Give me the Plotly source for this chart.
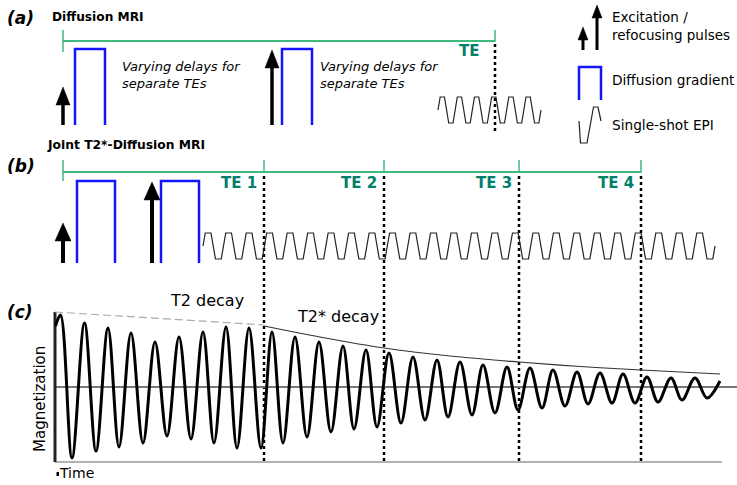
import plotly.graph_objects as go

W, H = 737, 485
FONT = "DejaVu Sans"
GREEN = "#3dba7c"
TEAL = "#00806a"
BLUE = "#1414ff"

# ---------------- data (time axis in figure units) ----------------
# (a) conventional diffusion MRI
a_pulse_x = [63, 272]          # excitation, refocusing pulse times
a_pulse_tip = [87, 50]         # pulse heights (tips)
a_grad_start = [75, 282]
a_grad_end = [105, 312]
a_te = [63, 495]               # start, echo time
a_epi = [438, 541]             # readout start / end
a_epi_lobes = 6

# (b) joint T2*-diffusion MRI
b_pulse_x = [63, 152]
b_pulse_tip = [223, 182]
b_grad_start = [77, 161]
b_grad_end = [115, 199]
b_te = [63, 264, 384, 519, 641]
b_te_labels = ["TE 1", "TE 2", "TE 3", "TE 4"]
b_epi = [203, 715]
b_epi_lobes = 25

# (c) magnetization signal: extrema
mag_t = [55.5, 60.5, 72, 84.5, 96, 108, 119, 131, 143, 155, 167, 179, 191, 203,
         214, 226, 237, 249, 261, 272, 283, 295, 307, 319, 331, 343, 354, 366,
         377, 389, 401, 413, 425, 437, 448, 460, 472, 483, 495, 507, 518, 530,
         542, 553, 565, 577, 588, 600, 612, 623, 635, 647, 658, 671, 682, 695,
         707, 720]
mag_y = [326, 315, 458, 323, 451, 328, 447, 333, 443, 342, 436, 337, 439, 332,
         443, 327, 448, 328, 448, 332, 443, 337, 437, 342, 432, 346, 429, 350,
         427, 353, 423, 357, 420, 360, 417, 362, 415, 365, 413, 367, 410, 368,
         408, 370, 406, 372, 404, 373, 403, 374, 403, 377, 402, 378, 400, 378,
         398, 381]
t2_t = [55, 264]
t2_y = [312, 325]
t2s_t = [264, 320, 384, 450, 519, 580, 641, 720]
t2s_y = [326, 337, 348, 356, 362, 366.5, 370, 374]

fig = go.Figure()
shapes = []
annotations = []


def line(xs, ys, color="black", width=1, dash=None, shape="linear"):
    fig.add_trace(go.Scatter(x=xs, y=ys, mode="lines", hoverinfo="skip",
                             line=dict(color=color, width=width, dash=dash, shape=shape),
                             showlegend=False))


def arrow(x, tail, tip, hw=7.5, hl=17, lw=4):
    line([x, x], [tail, tip + hl - 2], width=lw)
    shapes.append(dict(type="path", xref="x", yref="y",
                       path=f"M {x-hw},{tip+hl} L {x},{tip} L {x+hw},{tip+hl} Z",
                       fillcolor="black", line=dict(color="black", width=0.5)))


def gradient(x0, x1, top, bottom, lw=2.5):
    line([x0, x0, x1, x1], [bottom, top, top, bottom], color=BLUE, width=lw)


def epi(x0, x1, n, ytop, ybot, rf, lw=1.2):
    P = (x1 - x0) / n
    r = P * rf
    f = (P - 2 * r) / 2
    ym = (ytop + ybot) / 2
    xs, ys = [x0], [ym]
    for k in range(n):
        s = x0 + k * P
        xs += [s + r / 2, s + r / 2 + f, s + 1.5 * r + f, s + 1.5 * r + 2 * f, s + P]
        ys += [ytop, ytop, ybot, ybot, ym]
    line(xs, ys, color="#222", width=lw)


def text(x, y, s, size=12, color="black", xanchor="left", angle=0):
    annotations.append(dict(x=x, y=y, xref="x", yref="y", text=s, showarrow=False,
                            xanchor=xanchor, yanchor="middle", textangle=angle,
                            align="left",
                            font=dict(family=FONT, size=size, color=color)))


# ---------------- panel (a) ----------------
text(5, 18, "<b><i>(a)</i></b>", 17)
text(50, 17, "<b>Diffusion MRI</b>", 12.2)
line([a_te[0], a_te[1]], [41, 41], color=GREEN, width=2)
line([a_te[0], a_te[0]], [30, 52], color=GREEN, width=1.5)
line([a_te[1], a_te[1]], [30, 42], color=GREEN, width=1.5)
text(a_te[1] - 14, 51, "<b>TE</b>", 15, TEAL, xanchor="right")
line([a_te[1], a_te[1]], [44, 131], width=2.5, dash="3px,3px")
for x, tip in zip(a_pulse_x, a_pulse_tip):
    arrow(x, 125, tip, hw=7, hl=18, lw=3.5)
for x0, x1 in zip(a_grad_start, a_grad_end):
    gradient(x0, x1, 49, 125)
for xt in [120, 318]:
    text(xt, 74.5, "<i>Varying delays for<br>separate TEs</i>", 13)
epi(a_epi[0], a_epi[1], a_epi_lobes, 97, 123, 0.25)

# legend
arrow(583, 50, 27, hw=5, hl=13, lw=3)
arrow(597, 50, 5, hw=5, hl=13, lw=3)
text(610, 25.5, "Excitation /<br>refocusing pulses", 13.5)
gradient(579, 601, 67, 100, lw=2.5)
text(610, 80, "Diffusion gradient", 13.7)
line([579, 580.5, 587, 593.5, 598, 601], [121, 143, 143, 107, 107, 121], color="#222", width=1.2)
text(610, 125, "Single-shot EPI", 13.7)

# ---------------- panel (b) ----------------
text(45, 145, "<b>Joint T2*-Diffusion MRI</b>", 12.3)
text(5, 166, "<b><i>(b)</i></b>", 17)
line([b_te[0], b_te[-1]], [172, 172], color=GREEN, width=2)
line([b_te[0], b_te[0]], [160, 181], color=GREEN, width=1.5)
for x, lab in zip(b_te[1:], b_te_labels):
    line([x, x], [160, 173], color=GREEN, width=1.5)
    text(x - 5, 183, f"<b>{lab}</b>", 15, TEAL, xanchor="right")
    line([x, x], [176, 462], width=2.5, dash="3px,3px")
for x, tip in zip(b_pulse_x, b_pulse_tip):
    arrow(x, 263, tip, hw=8, hl=18, lw=4)
for x0, x1 in zip(b_grad_start, b_grad_end):
    gradient(x0, x1, 181, 263)
epi(b_epi[0], b_epi[1], b_epi_lobes, 233, 259, 0.22)

# ---------------- panel (c) ----------------
text(5, 312, "<b><i>(c)</i></b>", 17)
line([55, 722], [462, 462], color="#999", width=1.5)
line([55, 737], [387, 387], color="#777", width=2)
line([55, 55], [312, 462], color="#222", width=3)
line(t2_t, t2_y, color="#aaa", width=1.2, dash="8px,4px")
line(t2s_t, t2s_y, color="#333", width=1.2, shape="spline")
line(mag_t, mag_y, color="black", width=3, shape="spline")
text(168, 300, "T2 decay", 16)
text(295, 316, "T2* decay", 16)
text(40, 399, "Magnetization", 15, xanchor="center", angle=-90)
text(57, 473, "Time", 14)
shapes.append(dict(type="rect", xref="x", yref="y", x0=56.5, x1=59, y0=472, y1=476,
                   fillcolor="black", line=dict(width=0)))

fig.update_layout(
    width=W, height=H, margin=dict(l=0, r=0, t=0, b=0),
    paper_bgcolor="white", plot_bgcolor="white",
    xaxis=dict(range=[0, W], visible=False, fixedrange=True),
    yaxis=dict(range=[H, 0], visible=False, fixedrange=True),
    shapes=shapes, annotations=annotations, showlegend=False,
)
fig.write_html("out.html", config={"displayModeBar": False},
               post_script="document.body.style.margin='0px';document.body.style.overflow='hidden';")
